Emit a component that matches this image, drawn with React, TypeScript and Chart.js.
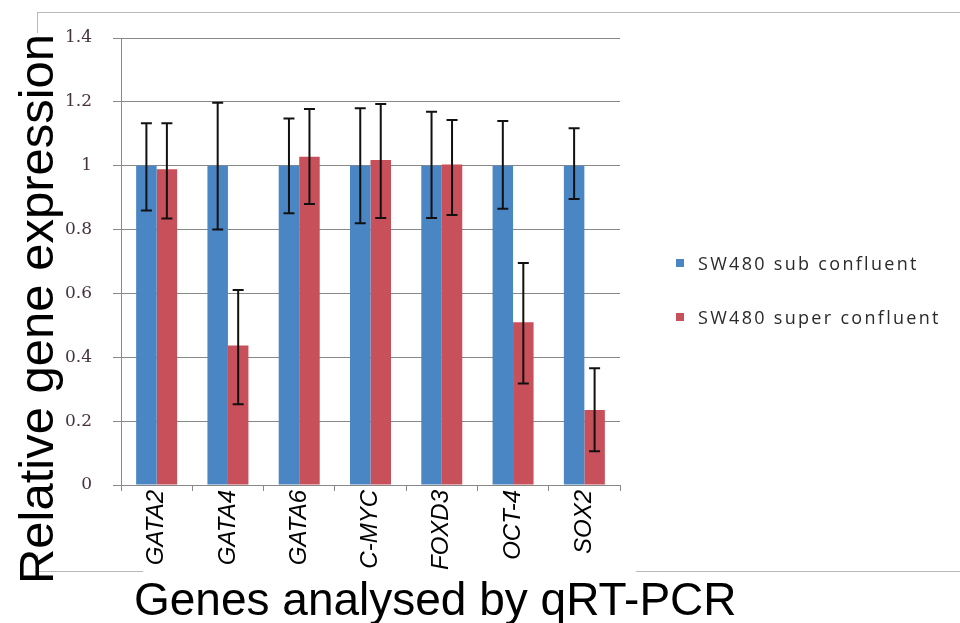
import React, { useEffect, useRef } from "react";
import { Chart, registerables } from "chart.js";

Chart.register(...registerables);

// ---- data ----
const genes = ["GATA2", "GATA4", "GATA6", "C-MYC", "FOXD3", "OCT-4", "SOX2"];
const seriesNames = ["SW480 sub confluent", "SW480 super confluent"];
const subValues = [1.0, 1.0, 1.0, 1.0, 1.0, 1.0, 1.0];
const subLow = [0.86, 0.8, 0.851, 0.82, 0.836, 0.865, 0.896];
const subHigh = [1.133, 1.197, 1.148, 1.18, 1.169, 1.14, 1.117];
const superValues = [0.989, 0.437, 1.028, 1.018, 1.004, 0.51, 0.235];
const superLow = [0.835, 0.253, 0.88, 0.836, 0.846, 0.318, 0.106];
const superHigh = [1.133, 0.611, 1.178, 1.193, 1.143, 0.695, 0.366];
const yMin = 0;
const yMax = 1.4;
const yStep = 0.2;
const yTitle = "Relative gene expression";
const xTitle = "Genes analysed by qRT-PCR";

// ---- styles ----
const seriesColors = ["#4a85c4", "#c7505a"];
const gridColor = "#888888";
const sansFamily = "'Liberation Sans', Arial, sans-serif";

const lows = [subLow, superLow];
const highs = [subHigh, superHigh];

const framePlugin = {
  id: "frame",
  beforeDraw(chart: any) {
    const { ctx, chartArea } = chart;
    const xs = chart.scales.x;
    ctx.save();
    ctx.fillStyle = "#ffffff";
    ctx.fillRect(0, 0, chart.width, chart.height);
    ctx.strokeStyle = "#b8b8b8";
    ctx.lineWidth = 1;
    ctx.strokeRect(37.5, 12.5, 1000, 559);
    ctx.fillStyle = "#ffffff";
    // gaps where titles / labels sit over the outer frame
    ctx.fillRect(28, 33, 20, 522);
    ctx.fillRect(xs.left + 22, 560, chartArea.right + 16 - xs.left - 22, 20);
    ctx.restore();
  },
};

const errorBarPlugin = {
  id: "errorBars",
  afterDatasetsDraw(chart: any) {
    const { ctx } = chart;
    const ys = chart.scales.y;
    ctx.save();
    ctx.strokeStyle = "#111111";
    ctx.lineWidth = 2;
    chart.data.datasets.forEach((_ds: any, i: number) => {
      const meta = chart.getDatasetMeta(i);
      meta.data.forEach((bar: any, j: number) => {
        const x = bar.x;
        const yl = ys.getPixelForValue(lows[i][j]);
        const yh = ys.getPixelForValue(highs[i][j]);
        ctx.beginPath();
        ctx.moveTo(x, yl);
        ctx.lineTo(x, yh);
        ctx.moveTo(x - 5.5, yl);
        ctx.lineTo(x + 5.5, yl);
        ctx.moveTo(x - 5.5, yh);
        ctx.lineTo(x + 5.5, yh);
        ctx.stroke();
      });
    });
    ctx.restore();
  },
};

const titlesPlugin = {
  id: "axisTitles",
  afterDraw(chart: any) {
    const { ctx } = chart;
    ctx.save();
    ctx.fillStyle = "#000000";
    ctx.font = `49px ${sansFamily}`;
    ctx.textAlign = "center";
    ctx.textBaseline = "alphabetic";
    ctx.translate(53, 309);
    ctx.rotate(-Math.PI / 2);
    ctx.fillText(yTitle, 0, 0);
    ctx.restore();
    ctx.save();
    ctx.fillStyle = "#000000";
    ctx.font = `46px ${sansFamily}`;
    ctx.textAlign = "left";
    ctx.textBaseline = "alphabetic";
    ctx.fillText(xTitle, 134, 615);
    ctx.restore();
  },
};

export default function App() {
  const ref = useRef<HTMLCanvasElement | null>(null);

  useEffect(() => {
    if (!ref.current) return;
    const chart = new Chart(ref.current, {
      type: "bar",
      data: {
        labels: genes,
        datasets: [
          {
            label: seriesNames[0],
            data: subValues,
            backgroundColor: seriesColors[0],
            borderWidth: 0,
            categoryPercentage: 0.575,
            barPercentage: 1.0,
          },
          {
            label: seriesNames[1],
            data: superValues,
            backgroundColor: seriesColors[1],
            borderWidth: 0,
            categoryPercentage: 0.575,
            barPercentage: 1.0,
          },
        ],
      },
      options: {
        responsive: false,
        animation: false,
        devicePixelRatio: 1,
        layout: { padding: { top: 38, left: 0, right: 340, bottom: 0 } },
        plugins: {
          legend: { display: false },
          tooltip: { enabled: false },
          title: { display: false },
        },
        scales: {
          x: {
            type: "category",
            offset: true,
            grid: {
              offset: true,
              drawOnChartArea: false,
              drawTicks: true,
              tickLength: 6,
              color: gridColor,
            },
            border: { display: true, color: gridColor, width: 1 },
            ticks: {
              minRotation: 90,
              maxRotation: 90,
              autoSkip: false,
              padding: -1,
              color: "#000000",
              font: { family: sansFamily, size: 24, style: "italic" },
            },
            afterFit: (s: any) => {
              s.height = 138;
            },
          },
          y: {
            min: yMin,
            max: yMax,
            grid: { color: gridColor, lineWidth: 1, tickLength: 8, drawTicks: true },
            border: { display: true, color: gridColor, width: 1 },
            ticks: {
              stepSize: yStep,
              padding: 21,
              color: "#45323f",
              font: { family: "'DejaVu Serif', serif", size: 17 },
              callback: (v: any) => String(Number(Number(v).toFixed(1))),
            },
            afterFit: (s: any) => {
              s.width = 121;
            },
          },
        },
      },
      plugins: [framePlugin, errorBarPlugin, titlesPlugin],
    });
    return () => chart.destroy();
  }, []);

  const legendRow = (i: number, top: number) => (
    <div
      key={i}
      style={{
        position: "absolute",
        left: 676,
        top,
        height: 20,
        lineHeight: "20px",
        whiteSpace: "nowrap",
        fontFamily: "'Open Sans', sans-serif",
        fontSize: 18,
        letterSpacing: "2.3px",
        color: "#2a2a2a",
        display: "flex",
        alignItems: "center",
      }}
    >
      <span
        style={{
          display: "inline-block",
          width: 8,
          height: 8,
          background: seriesColors[i],
          marginRight: 14,
        }}
      />
      <span>{seriesNames[i]}</span>
    </div>
  );

  return (
    <div
      style={{
        position: "fixed",
        left: 0,
        top: 0,
        width: 960,
        height: 623,
        background: "#ffffff",
      }}
    >
      <canvas
        ref={ref}
        width={960}
        height={623}
        style={{ display: "block", width: 960, height: 623 }}
      />
      {legendRow(0, 253)}
      {legendRow(1, 307)}
    </div>
  );
}
